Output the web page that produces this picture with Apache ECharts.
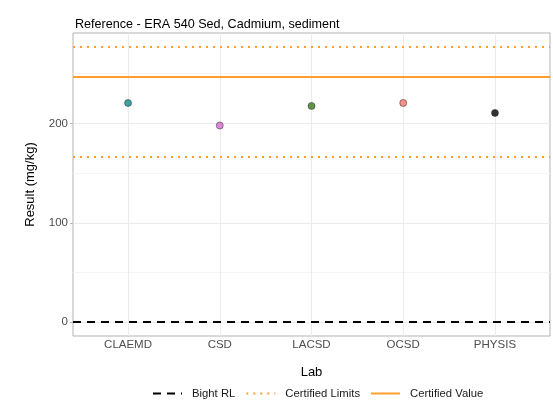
<!DOCTYPE html>
<html><head><meta charset="utf-8">
<script src="https://cdn.jsdelivr.net/npm/echarts@6/dist/echarts.min.js"></script>
<style>html,body{margin:0;padding:0;background:#fff}#c{width:553px;height:417px}</style>
</head><body><div id="c"></div>
<script>
const labs = ['CLAEMD', 'CSD', 'LACSD', 'OCSD', 'PHYSIS'];
const results = [220.5, 197.8, 217.5, 220.5, 210.5];
const pointColors = ['#128a8a', '#d36bd3', '#387a1c', '#f2766a', '#000000'];
const bightRL = 0;
const certifiedLimits = [166.7, 277];
const certifiedValue = 246.6;
const yTicks = [0, 100, 200];
const yMinorGrid = [50, 150, 250];

const FONT = 'Liberation Sans, Arial, sans-serif';
const ORANGE = '#ff9d2f';

const chart = echarts.init(document.getElementById('c'), null, {renderer: 'canvas'});

const xs = labs.map((_, i) => i + 1);
const yMaxData = Math.max(...certifiedLimits, ...results, certifiedValue);
const yMinData = Math.min(bightRL, ...results);
const span = yMaxData - yMinData;

const gridMarks = {
  silent: true, symbol: 'none', animation: false, label: {show: false},
  data: [
    ...yTicks.map(v => ({yAxis: v, lineStyle: {color: '#ebebeb', width: 1, type: 'solid'}})),
    ...yMinorGrid.map(v => ({yAxis: v, lineStyle: {color: '#f5f5f5', width: 1, type: 'solid'}})),
    ...xs.map(v => ({xAxis: v, lineStyle: {color: '#ebebeb', width: 1, type: 'solid'}}))
  ]
};

const legendNames = ['Bight RL', 'Certified Limits', 'Certified Value'];

const option = {
  animation: false,
  textStyle: {fontFamily: FONT},
  title: {
    text: 'Reference - ERA 540 Sed, Cadmium, sediment',
    left: 70, top: 13,
    textStyle: {fontFamily: FONT, fontSize: 12.6, fontWeight: 'normal', color: '#000'}
  },
  grid: {left: 73, right: 3, top: 33, bottom: 81, show: true, borderColor: '#b3b3b3', borderWidth: 1, containLabel: false},
  legend: {
    bottom: 13, left: 147,
    itemWidth: 29, itemHeight: 10, itemGap: 10,
    itemStyle: {opacity: 0, borderWidth: 0},
    textStyle: {fontFamily: FONT, fontSize: 11.3, color: '#1a1a1a', padding: [0, 0, 0, 5]},
    data: legendNames
  },
  xAxis: {
    type: 'value', min: 0.4, max: 5.6,
    name: 'Lab', nameLocation: 'middle', nameGap: 30,
    nameTextStyle: {fontFamily: FONT, fontSize: 13, color: '#000'},
    axisLine: {show: false},
    splitLine: {show: false},
    axisTick: {show: true, length: 3, lineStyle: {color: '#b3b3b3'}, customValues: xs},
    axisLabel: {customValues: xs, fontFamily: FONT, fontSize: 11.5, color: '#4d4d4d', margin: 3,
      formatter: v => labs[Math.round(v) - 1] || ''}
  },
  yAxis: {
    type: 'value', min: yMinData - 0.05 * span, max: yMaxData + 0.05 * span,
    name: 'Result (mg/kg)', nameLocation: 'middle', nameGap: 36,
    nameTextStyle: {fontFamily: FONT, fontSize: 13, color: '#000'},
    axisLine: {show: false},
    splitLine: {show: false},
    axisTick: {show: true, length: 3, lineStyle: {color: '#b3b3b3'}, customValues: yTicks},
    axisLabel: {customValues: yTicks, fontFamily: FONT, fontSize: 11.5, color: '#4d4d4d', margin: 5}
  },
  series: [
    {type: 'line', name: 'grid', data: [], silent: true, markLine: gridMarks, z: 0},
    {
      type: 'line', name: 'Bight RL', data: [], symbol: 'none',
      lineStyle: {color: '#000', width: 2, type: [8, 6]},
      itemStyle: {color: '#000'},
      markLine: {silent: true, symbol: 'none', label: {show: false},
        lineStyle: {color: '#000', width: 2, type: [8, 6]},
        data: [{yAxis: bightRL}]}
    },
    {
      type: 'line', name: 'Certified Limits', data: [], symbol: 'none',
      lineStyle: {color: ORANGE, width: 2, type: [2, 5]},
      itemStyle: {color: ORANGE},
      markLine: {silent: true, symbol: 'none', label: {show: false},
        lineStyle: {color: ORANGE, width: 2, type: [2, 5]},
        data: certifiedLimits.map(v => ({yAxis: v}))}
    },
    {
      type: 'line', name: 'Certified Value', data: [], symbol: 'none',
      lineStyle: {color: ORANGE, width: 2, type: 'solid'},
      itemStyle: {color: ORANGE},
      markLine: {silent: true, symbol: 'none', label: {show: false},
        lineStyle: {color: ORANGE, width: 2, type: 'solid'},
        data: [{yAxis: certifiedValue}]}
    },
    {
      type: 'scatter', name: 'points', symbolSize: 7, z: 5,
      data: results.map((v, i) => ({value: [xs[i], v], itemStyle: {color: pointColors[i], borderColor: '#222', borderWidth: 0.6}}))
    }
  ]
};
chart.setOption(option);
</script>
</body></html>
